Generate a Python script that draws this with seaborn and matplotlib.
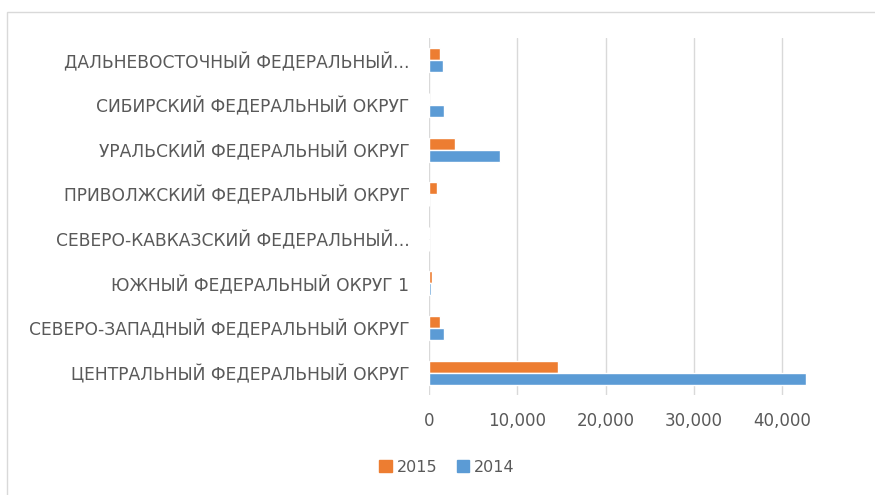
import pandas as pd
import numpy as np
import matplotlib
matplotlib.use("Agg")
import matplotlib.pyplot as plt
import seaborn as sns
from matplotlib.patches import Rectangle

# data (top to bottom)
regions = [
    "ДАЛЬНЕВОСТОЧНЫЙ ФЕДЕРАЛЬНЫЙ...",
    "СИБИРСКИЙ ФЕДЕРАЛЬНЫЙ ОКРУГ",
    "УРАЛЬСКИЙ ФЕДЕРАЛЬНЫЙ ОКРУГ",
    "ПРИВОЛЖСКИЙ ФЕДЕРАЛЬНЫЙ ОКРУГ",
    "СЕВЕРО-КАВКАЗСКИЙ ФЕДЕРАЛЬНЫЙ...",
    "ЮЖНЫЙ ФЕДЕРАЛЬНЫЙ ОКРУГ 1",
    "СЕВЕРО-ЗАПАДНЫЙ ФЕДЕРАЛЬНЫЙ ОКРУГ",
    "ЦЕНТРАЛЬНЫЙ ФЕДЕРАЛЬНЫЙ ОКРУГ",
]
values_2015 = [1250, 0, 3000, 880, 0, 390, 1250, 14600]
values_2014 = [1550, 1700, 8030, 0, 0, 250, 1740, 42700]
years = ["2015", "2014"]
x_ticks = [0, 10000, 20000, 30000, 40000]

df = pd.DataFrame({
    "region": regions * 2,
    "year": ["2015"] * len(regions) + ["2014"] * len(regions),
    "value": values_2015 + values_2014,
})

sns.set_theme(style="white")
plt.rcParams["font.family"] = ["DejaVu Sans"]
text_color = "#595959"
grid_color = "#d9d9d9"

fig = plt.figure(figsize=(8.75, 4.95), dpi=100)
ax = fig.add_axes([429 / 875, 1 - 395 / 495, (835 - 429) / 875, (395 - 38) / 495])

sns.barplot(
    data=df, y="region", x="value", hue="year", hue_order=years,
    order=regions, orient="h", palette=["#ED7D31", "#5B9BD5"],
    width=0.54, ax=ax, legend=False, saturation=1,
)

ax.set_xlim(0, 46000)
ax.set_xticks(x_ticks)
ax.set_xticklabels([f"{t:,}" for t in x_ticks])
ax.grid(axis="x", color=grid_color, linewidth=1)
ax.set_axisbelow(True)
for side in ["top", "right", "bottom", "left"]:
    ax.spines[side].set_visible(False)
ax.set_xlabel("")
ax.set_ylabel("")
ax.tick_params(axis="y", length=0, pad=14, labelsize=12.3, labelcolor=text_color)
ax.tick_params(axis="x", length=0, pad=12, labelsize=12, labelcolor=text_color)

# legend at the bottom
handles = [Rectangle((0, 0), 1, 1, color=c) for c in ["#ED7D31", "#5B9BD5"]]
fig.legend(handles, years, loc="center", bbox_to_anchor=(447 / 875, 1 - 467 / 495),
           ncol=2, frameon=False, fontsize=11.5, labelcolor=text_color,
           handlelength=0.8, handleheight=0.8, handletextpad=0.3, columnspacing=1.2)

# chart border
fig.patches.append(Rectangle((7 / 875, -0.05), 1.1, 1.05 - 12 / 495,
                             transform=fig.transFigure, fill=False,
                             edgecolor=grid_color, linewidth=1))

fig.savefig("out.png", dpi=100)
